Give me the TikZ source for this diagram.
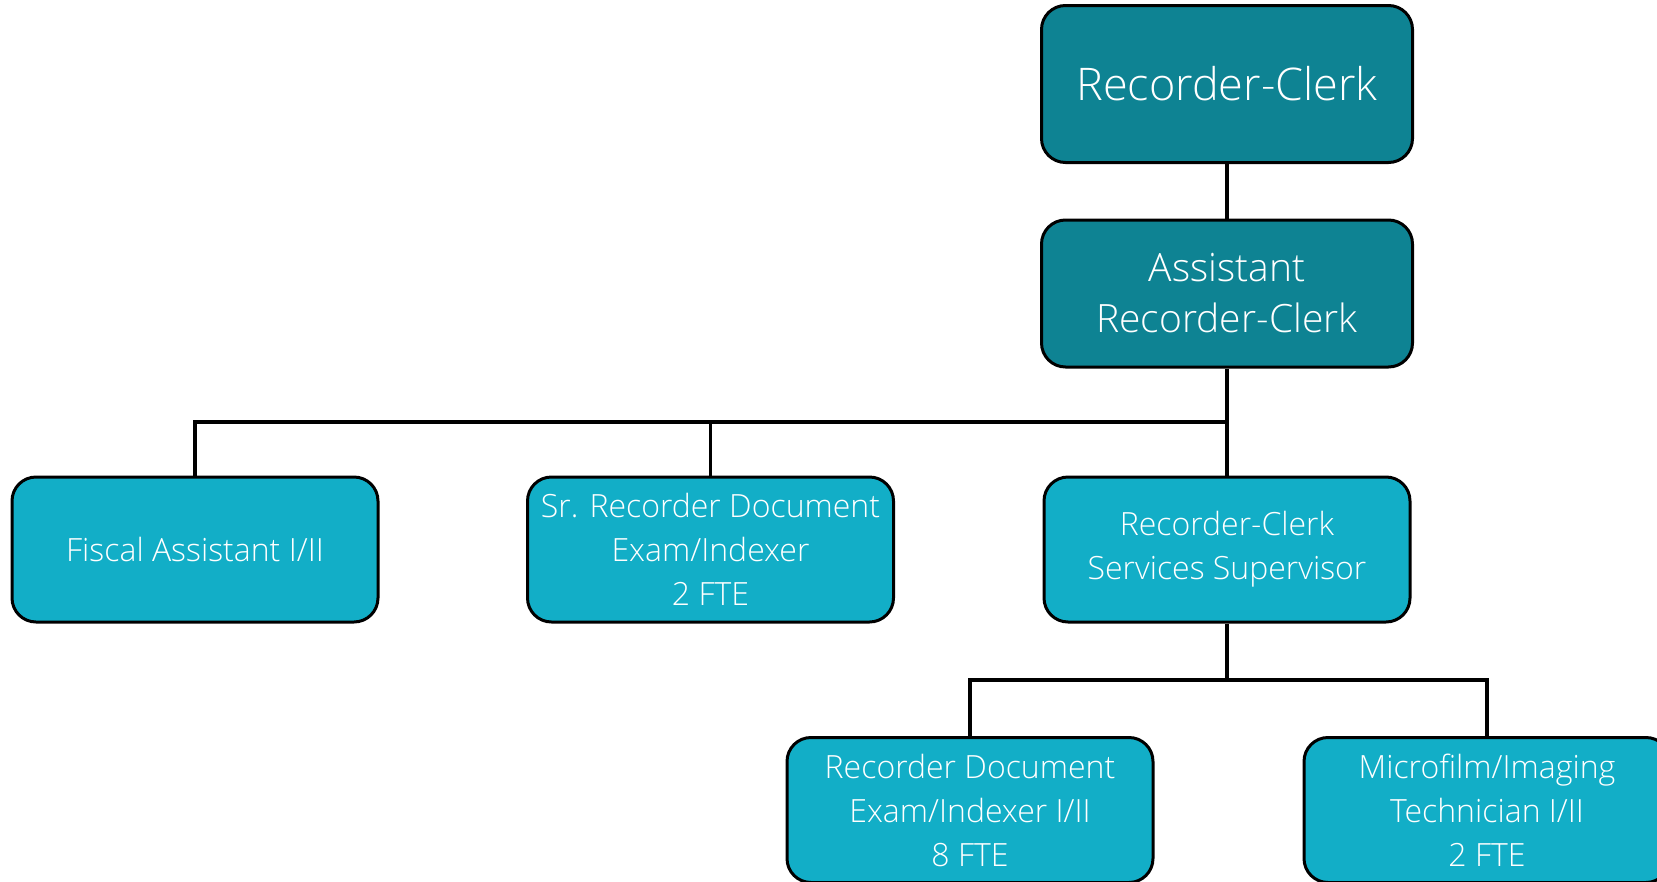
\documentclass[tikz,border=0pt]{standalone}
\usepackage{fontspec}
\setmainfont{Open Sans}[UprightFont={* Light}]
\definecolor{darkteal}{RGB}{14,131,147}
\definecolor{lightteal}{RGB}{18,174,199}
\begin{document}
\begin{tikzpicture}[x=1pt,y=-1pt,
  box/.style={draw=black,line width=3pt,rounded corners=24pt,text=white,align=center,inner sep=0pt,minimum width=#1},
  topbox/.style={box=371pt,fill=darkteal},
  midbox/.style={box=366pt,fill=lightteal,minimum height=145pt,font=\fontsize{32}{44}\selectfont},
  conn/.style={draw=black,line width=3.5pt}]
\useasboundingbox (0,0) rectangle (1657,881);
\node[topbox,minimum height=157pt,font=\fontsize{45}{54}\selectfont] (rc) at (1227,84) {Recorder-Clerk};
\node[topbox,minimum height=147pt,font=\fontsize{39}{51}\selectfont] (arc) at (1227,293.5) {Assistant\\Recorder-Clerk};
\node[midbox] (fa) at (195,549.5) {Fiscal Assistant I/II};
\node[midbox] (sr) at (710.5,549.5) {Sr. Recorder Document\\Exam/Indexer\\2 FTE};
\node[midbox] (sup) at (1227,549.5) {Recorder-Clerk\\Services Supervisor};
\node[midbox] (rd) at (970,810) {Recorder Document\\Exam/Indexer I/II\\8 FTE};
\node[midbox] (mi) at (1487,810) {Microfilm/Imaging\\Technician I/II\\2 FTE};
\coordinate (bus1) at (1227,422);
\coordinate (bus2) at (1227,680);
\draw[conn] (rc) -- (arc);
\draw[conn] (arc) -- (sup);
\draw[conn] (fa.north) |- (bus1);
\draw[conn] (sr.north) -- (sr.north |- bus1);
\draw[conn] (sup) -- (bus2);
\draw[conn] (rd.north) |- (bus2) -| (mi.north);
\end{tikzpicture}
\end{document}
